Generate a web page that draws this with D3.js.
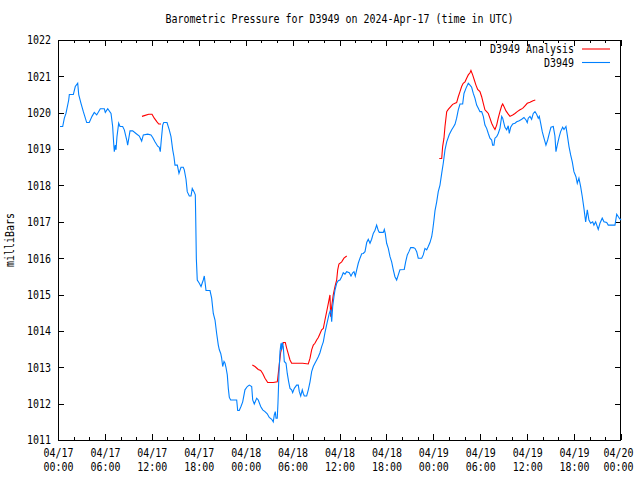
<!DOCTYPE html>
<html>
<head>
<meta charset="utf-8">
<script src="https://cdn.jsdelivr.net/npm/d3@7"></script>
<style>
  html, body { margin: 0; padding: 0; background: #fff; }
  svg { display: block; }
</style>
</head>
<body>
<svg id="chart" width="640" height="480"></svg>
<script>
// ---- data (hours after 2024-04-17 00:00 UTC, millibars) ----
const titleText = "Barometric Pressure for D3949 on 2024-Apr-17 (time in UTC)";
const yLabelText = "milliBars";
const seriesNames = ["D3949 Analysis", "D3949"];
const yTickValues = [1011,1012,1013,1014,1015,1016,1017,1018,1019,1020,1021,1022];

const observed = [[0.26,1019.62],[0.60,1019.62],[0.81,1019.85],[1.02,1019.98],[1.37,1020.35],[1.45,1020.5],[1.96,1020.5],[2.21,1020.72],[2.52,1020.81],[2.65,1020.5],[2.94,1020.26],[3.24,1020.03],[3.67,1019.73],[4.00,1019.73],[4.35,1019.9],[4.64,1020.01],[4.95,1019.94],[5.41,1020.11],[5.92,1020.11],[6.05,1020.01],[6.36,1020.11],[6.78,1019.98],[6.99,1019.62],[7.12,1019.16],[7.20,1018.93],[7.33,1019.11],[7.42,1018.98],[7.54,1019.34],[7.76,1019.71],[7.93,1019.62],[8.27,1019.62],[8.48,1019.53],[8.79,1019.25],[8.91,1019.11],[9.21,1019.5],[9.55,1019.5],[9.97,1019.43],[10.40,1019.36],[10.70,1019.22],[10.91,1019.39],[11.47,1019.41],[11.89,1019.39],[12.11,1019.32],[12.40,1019.2],[12.75,1019.08],[12.95,1019.05],[13.08,1018.93],[13.21,1019.25],[13.39,1019.66],[13.52,1019.73],[13.94,1019.73],[14.23,1019.53],[14.45,1019.34],[14.67,1018.98],[14.83,1018.79],[14.96,1018.56],[15.26,1018.56],[15.47,1018.33],[15.73,1018.5],[16.02,1018.5],[16.15,1018.43],[16.37,1018.17],[16.53,1017.83],[16.79,1017.71],[17.01,1017.71],[17.17,1017.92],[17.39,1017.83],[17.56,1017.74],[17.61,1017.14],[17.69,1016.0],[17.81,1015.4],[18.07,1015.31],[18.29,1015.22],[18.58,1015.4],[18.71,1015.51],[18.93,1015.11],[19.44,1015.11],[19.65,1014.9],[19.86,1014.48],[20.08,1014.3],[20.29,1013.93],[20.50,1013.61],[20.63,1013.48],[20.81,1013.38],[20.93,1013.25],[21.06,1013.02],[21.23,1013.16],[21.36,1013.11],[21.48,1013.0],[21.65,1012.79],[21.78,1012.42],[21.91,1012.17],[22.08,1012.1],[22.85,1012.1],[22.98,1011.81],[23.18,1011.81],[23.40,1011.92],[23.62,1012.05],[23.91,1012.38],[24.21,1012.47],[24.46,1012.51],[24.77,1012.47],[24.90,1012.1],[25.10,1011.99],[25.41,1012.15],[25.61,1012.1],[25.92,1011.92],[26.18,1011.83],[26.47,1011.78],[26.76,1011.72],[27.02,1011.62],[27.33,1011.57],[27.53,1011.5],[27.66,1011.69],[27.79,1011.78],[27.88,1011.6],[28.04,1011.6],[28.13,1012.01],[28.26,1012.83],[28.39,1013.43],[28.52,1013.66],[28.61,1013.48],[28.68,1013.68],[28.81,1013.57],[28.94,1013.16],[29.16,1013.11],[29.32,1012.83],[29.50,1012.6],[29.67,1012.42],[29.88,1012.38],[30.01,1012.3],[30.22,1012.42],[30.52,1012.51],[30.73,1012.51],[30.86,1012.33],[31.04,1012.21],[31.24,1012.38],[31.37,1012.28],[31.50,1012.21],[31.80,1012.21],[32.01,1012.38],[32.23,1012.6],[32.44,1012.88],[32.65,1013.02],[32.86,1013.11],[33.08,1013.2],[33.29,1013.29],[33.50,1013.4],[33.72,1013.57],[33.93,1013.7],[34.14,1013.95],[34.44,1014.25],[34.69,1014.48],[34.87,1014.58],[35.00,1014.25],[35.13,1014.67],[35.29,1014.94],[35.42,1015.12],[35.64,1015.31],[35.84,1015.38],[36.06,1015.4],[36.28,1015.49],[36.48,1015.6],[36.70,1015.56],[36.92,1015.63],[37.25,1015.6],[37.47,1015.51],[37.69,1015.6],[37.85,1015.63],[38.02,1015.51],[38.20,1015.68],[38.40,1015.86],[38.62,1016.0],[38.84,1016.12],[39.04,1016.13],[39.26,1016.18],[39.48,1016.43],[39.68,1016.52],[39.90,1016.41],[40.11,1016.52],[40.32,1016.68],[40.54,1016.77],[40.75,1016.91],[40.96,1016.76],[41.09,1016.71],[41.60,1016.71],[41.73,1016.79],[41.85,1016.68],[42.03,1016.41],[42.24,1016.27],[42.46,1016.04],[42.67,1015.9],[42.88,1015.68],[43.09,1015.49],[43.31,1015.4],[43.52,1015.54],[43.73,1015.68],[44.28,1015.69],[44.46,1015.9],[44.67,1016.09],[44.88,1016.18],[45.10,1016.29],[45.43,1016.29],[45.65,1016.27],[45.87,1016.18],[46.07,1016.0],[46.51,1016.0],[46.71,1016.09],[46.93,1016.27],[47.15,1016.23],[47.35,1016.32],[47.57,1016.43],[47.79,1016.59],[47.92,1016.77],[48.08,1017.05],[48.21,1017.3],[48.43,1017.55],[48.63,1017.83],[48.85,1018.01],[49.07,1018.33],[49.27,1018.61],[49.49,1018.98],[49.71,1019.2],[50.04,1019.4],[50.35,1019.53],[50.55,1019.6],[50.77,1019.68],[50.98,1019.85],[51.19,1020.08],[51.41,1020.24],[51.75,1020.24],[51.92,1020.53],[52.17,1020.67],[52.47,1020.81],[52.69,1020.76],[52.90,1020.7],[53.11,1020.53],[53.32,1020.4],[53.54,1020.21],[53.75,1020.12],[53.96,1020.03],[54.18,1020.03],[54.39,1019.9],[54.60,1019.66],[54.82,1019.57],[55.03,1019.43],[55.24,1019.3],[55.46,1019.25],[55.58,1019.11],[55.75,1019.11],[55.88,1019.3],[56.10,1019.34],[56.30,1019.43],[56.52,1019.57],[56.74,1019.9],[56.87,1019.85],[57.03,1019.71],[57.16,1019.6],[57.38,1019.53],[57.58,1019.64],[57.71,1019.43],[57.89,1019.6],[58.15,1019.69],[58.44,1019.71],[58.66,1019.75],[58.99,1019.78],[59.30,1019.82],[59.59,1019.87],[59.85,1019.8],[60.01,1019.73],[60.14,1019.85],[60.36,1019.9],[60.57,1019.82],[60.78,1019.98],[61.00,1020.03],[61.21,1019.96],[61.42,1019.85],[61.55,1019.9],[61.73,1019.71],[61.93,1019.48],[62.15,1019.3],[62.40,1019.11],[62.62,1019.25],[62.83,1019.43],[63.04,1019.6],[63.34,1019.62],[63.55,1019.36],[63.68,1018.93],[63.85,1019.11],[64.10,1019.34],[64.28,1019.48],[64.54,1019.6],[64.71,1019.54],[64.96,1019.62],[65.13,1019.39],[65.35,1019.07],[65.56,1018.84],[65.77,1018.65],[65.98,1018.38],[66.24,1018.24],[66.41,1018.06],[66.62,1018.2],[66.84,1017.97],[67.05,1017.69],[67.26,1017.37],[67.48,1017.0],[67.69,1017.33],[67.90,1017.05],[68.12,1016.96],[68.38,1017.0],[68.54,1016.91],[68.76,1017.0],[69.09,1016.79],[69.31,1016.96],[69.60,1017.1],[69.82,1017.0],[70.17,1016.98],[70.37,1016.91],[71.23,1016.91],[71.45,1017.21],[71.78,1017.1],[72.00,1017.05]];

const analysis1 = [[10.74,1019.9],[11.04,1019.92],[11.60,1019.96],[12.02,1019.96],[12.31,1019.85],[12.66,1019.75],[12.88,1019.69],[13.17,1019.69]];
const analysis2 = [[24.85,1013.06],[25.19,1013.02],[25.61,1012.94],[25.92,1012.91],[26.18,1012.83],[26.47,1012.7],[26.82,1012.58],[27.53,1012.58],[28.04,1012.6],[28.09,1012.67],[28.29,1013.06],[28.47,1013.4],[28.81,1013.68],[29.07,1013.68],[29.25,1013.52],[29.45,1013.37],[29.67,1013.2],[29.88,1013.11],[31.29,1013.11],[32.01,1013.09],[32.23,1013.25],[32.44,1013.48],[32.65,1013.61],[32.86,1013.66],[33.08,1013.75],[33.29,1013.82],[33.50,1013.92],[33.72,1014.03],[33.93,1014.07],[34.14,1014.3],[34.36,1014.53],[34.57,1014.76],[34.78,1014.99],[34.87,1014.39],[35.00,1014.67],[35.20,1014.99],[35.42,1015.22],[35.64,1015.4],[35.77,1015.68],[35.93,1015.84],[36.28,1015.9],[36.57,1016.0],[36.92,1016.06]];
const analysis3 = [[48.76,1018.74],[49.07,1018.74],[49.19,1019.07],[49.36,1019.3],[49.49,1019.62],[49.71,1020.03],[49.91,1020.09],[50.22,1020.17],[50.47,1020.23],[50.77,1020.26],[50.98,1020.28],[51.19,1020.44],[51.41,1020.58],[51.62,1020.72],[51.82,1020.81],[52.05,1020.85],[52.26,1020.95],[52.47,1021.04],[52.69,1021.1],[52.81,1021.16],[53.03,1021.04],[53.24,1020.9],[53.45,1020.76],[53.67,1020.64],[53.96,1020.58],[54.18,1020.44],[54.39,1020.26],[54.60,1020.08],[54.82,1020.03],[55.03,1019.98],[55.24,1019.85],[55.46,1019.71],[55.66,1019.62],[55.88,1019.54],[56.10,1019.66],[56.30,1019.85],[56.52,1020.03],[56.74,1020.19],[56.87,1020.24],[57.03,1020.17],[57.29,1020.05],[57.58,1019.96],[57.80,1019.9],[58.15,1019.94],[58.44,1019.98],[58.73,1020.03],[59.08,1020.08],[59.42,1020.12],[59.72,1020.19],[60.01,1020.26],[60.36,1020.29],[60.75,1020.33],[61.04,1020.35]];

// ---- layout ----
const W = 640, H = 480;
const margin = {left: 58, right: 19, top: 40, bottom: 40};
const FONT = "'DejaVu Sans Mono', 'Liberation Mono', monospace";
const CHAR_W = 6;
const colorAnalysis = "#ff0000";
const colorObs = "#0080ff";

const t0 = Date.UTC(2024, 3, 17, 0, 0);
const toDate = h => new Date(t0 + h * 3600e3);

const svg = d3.select("#chart");

const x = d3.scaleUtc()
  .domain([toDate(0), toDate(72)])
  .range([margin.left, W - margin.right]);
const y = d3.scaleLinear()
  .domain([1011, 1022])
  .range([H - margin.bottom, margin.top]);

function styleText(sel) {
  sel.each(function() {
    const t = d3.select(this);
    const s = t.text();
    t.attr("font-family", FONT)
     .attr("font-size", 12)
     .attr("fill", "#000")
     .attr("textLength", s.length * CHAR_W)
     .attr("lengthAdjust", "spacingAndGlyphs");
  });
}

// ---- axes ----
const fmtDay = d3.utcFormat("%m/%d");
const fmtTime = d3.utcFormat("%H:%M");

// minor ticks (every 2h) bottom & top
svg.append("g")
  .attr("transform", `translate(0,${H - margin.bottom})`)
  .call(d3.axisBottom(x).ticks(d3.utcHour.every(2)).tickSize(-3).tickFormat(""))
  .call(g => g.select(".domain").remove());
svg.append("g")
  .attr("transform", `translate(0,${margin.top})`)
  .call(d3.axisTop(x).ticks(d3.utcHour.every(2)).tickSize(-3).tickFormat(""))
  .call(g => g.select(".domain").remove());

// major ticks (every 6h)
const xAxisG = svg.append("g")
  .attr("transform", `translate(0,${H - margin.bottom})`)
  .call(d3.axisBottom(x).ticks(d3.utcHour.every(6)).tickSize(-6).tickFormat(fmtDay))
  .call(g => g.select(".domain").remove());
const lastTick = x.domain()[1].getTime();
xAxisG.selectAll(".tick").each(function(d) {
  const g = d3.select(this);
  const isLast = d.getTime() === lastTick;
  const tx = isLast ? 3 : 0;
  g.select("text").attr("x", -tx).attr("y", 13).attr("dy", "0.35em");
  g.append("text").attr("x", -tx).attr("y", 27).attr("dy", "0.35em")
    .attr("text-anchor", "middle").text(fmtTime(d));
});
xAxisG.selectAll("text").call(styleText);

svg.append("g")
  .attr("transform", `translate(0,${margin.top})`)
  .call(d3.axisTop(x).ticks(d3.utcHour.every(6)).tickSize(-6).tickFormat(""))
  .call(g => g.select(".domain").remove());

const yAxisG = svg.append("g")
  .attr("transform", `translate(${margin.left},0)`)
  .call(d3.axisLeft(y).tickValues(yTickValues).tickSize(-6).tickPadding(7).tickFormat(d3.format("d")))
  .call(g => g.select(".domain").remove());
yAxisG.selectAll("text").call(styleText);

svg.append("g")
  .attr("transform", `translate(${W - margin.right},0)`)
  .call(d3.axisRight(y).tickValues(yTickValues).tickSize(-6).tickFormat(""))
  .call(g => g.select(".domain").remove());

svg.selectAll(".tick line").attr("stroke", "#000").attr("shape-rendering", "crispEdges");

// border
svg.append("rect")
  .attr("x", margin.left + 0.5).attr("y", margin.top + 0.5)
  .attr("width", W - margin.left - margin.right - 1)
  .attr("height", H - margin.top - margin.bottom)
  .attr("fill", "none").attr("stroke", "#000").attr("shape-rendering", "crispEdges");

// ---- lines ----
const line = d3.line()
  .x(d => x(toDate(d[0])))
  .y(d => y(d[1]));

const plot = svg.append("g");
[analysis1, analysis2, analysis3].forEach(seg => {
  plot.append("path").datum(seg)
    .attr("d", line)
    .attr("fill", "none")
    .attr("stroke", colorAnalysis)
    .attr("stroke-width", 1.1);
});
plot.append("path").datum(observed)
  .attr("d", line)
  .attr("fill", "none")
  .attr("stroke", colorObs)
  .attr("stroke-width", 1.1);

// ---- texts ----
svg.append("text")
  .attr("x", (margin.left + W - margin.right) / 2)
  .attr("y", 19).attr("dy", "0.35em")
  .attr("text-anchor", "middle")
  .text(titleText)
  .call(styleText);

svg.append("text")
  .attr("transform", `translate(10,${(margin.top + H - margin.bottom) / 2}) rotate(-90)`)
  .attr("text-anchor", "middle")
  .attr("dy", "0.35em")
  .text(yLabelText)
  .call(styleText);

// ---- legend ----
const legend = svg.append("g");
const legendColors = [colorAnalysis, colorObs];
seriesNames.forEach((name, i) => {
  const ly = 49 + i * 13.5;
  legend.append("text")
    .attr("x", 574).attr("y", ly).attr("dy", "0.35em")
    .attr("text-anchor", "end")
    .text(name)
    .call(styleText);
  legend.append("line")
    .attr("x1", 582).attr("x2", 610)
    .attr("y1", ly).attr("y2", ly)
    .attr("stroke", legendColors[i])
    .attr("stroke-width", 1.1);
});
</script>
</body>
</html>
